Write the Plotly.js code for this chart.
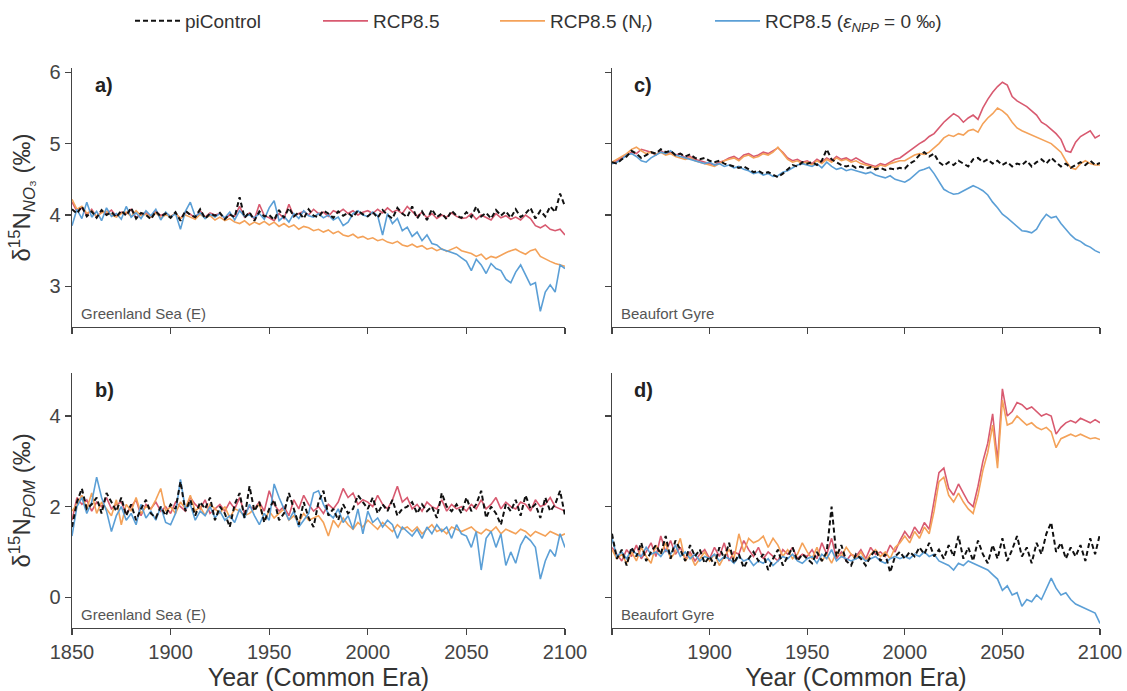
<!DOCTYPE html>
<html>
<head>
<meta charset="utf-8">
<script src="https://cdn.plot.ly/plotly-3.0.1.min.js"></script>
<style>html,body{margin:0;padding:0;background:#fff;}#chart{width:1127px;height:691px;}</style>
</head>
<body>
<div id="chart"></div>
<script>
// Years (2.5-year steps, 1850-2100)
const years = [1850,1852.5,1855,1857.5,1860,1862.5,1865,1867.5,1870,1872.5,
1875,1877.5,1880,1882.5,1885,1887.5,1890,1892.5,1895,1897.5,
1900,1902.5,1905,1907.5,1910,1912.5,1915,1917.5,1920,1922.5,
1925,1927.5,1930,1932.5,1935,1937.5,1940,1942.5,1945,1947.5,
1950,1952.5,1955,1957.5,1960,1962.5,1965,1967.5,1970,1972.5,
1975,1977.5,1980,1982.5,1985,1987.5,1990,1992.5,1995,1997.5,
2000,2002.5,2005,2007.5,2010,2012.5,2015,2017.5,2020,2022.5,
2025,2027.5,2030,2032.5,2035,2037.5,2040,2042.5,2045,2047.5,
2050,2052.5,2055,2057.5,2060,2062.5,2065,2067.5,2070,2072.5,
2075,2077.5,2080,2082.5,2085,2087.5,2090,2092.5,2095,2097.5,
2100];

const seriesNames = ['piControl','RCP8.5','RCP8.5 (N<sub><i>r</i></sub>)','RCP8.5 (<i>ε</i><sub><i>NPP</i></sub> = 0 ‰)'];
const panelLetters = ['a)','b)','c)','d)'];
const regionNames = ['Greenland Sea (E)','Greenland Sea (E)','Beaufort Gyre','Beaufort Gyre'];
const xTickVals = [1850,1900,1950,2000,2050,2100];
const xTickText = ['1850','1900','1950','2000','2050','2100'];
const xTickTextD = ['','1900','1950','2000','2050','2100'];

// Panel a: δ15N NO3, Greenland Sea (E)
const aPi = [4.08,4.02,4.12,3.98,4.05,3.96,4.07,4.00,4.04,3.97,
4.06,3.99,4.10,3.95,4.03,4.00,3.94,4.05,3.98,4.02,
3.96,4.04,3.92,4.06,4.00,3.97,4.08,3.95,4.02,3.99,
4.03,3.94,4.01,3.97,4.25,3.96,4.04,3.92,4.05,3.98,
4.00,3.93,4.07,3.96,4.10,3.98,4.04,3.95,4.08,3.99,
3.97,4.06,4.02,3.96,4.05,3.99,4.03,3.97,4.06,4.01,
3.98,4.04,3.96,4.07,4.00,3.95,4.10,4.02,3.97,4.12,
3.95,4.05,3.93,4.08,3.97,4.02,3.94,4.06,3.99,3.96,
4.04,3.97,4.12,3.98,4.03,3.95,4.07,3.99,4.05,3.96,
4.08,3.97,4.02,4.10,3.95,4.06,3.98,4.12,4.04,4.30,
4.12];
const aRcp = [4.18,4.05,4.10,4.00,4.08,3.97,4.05,4.02,4.07,3.98,
4.04,4.02,4.08,3.96,4.01,4.03,3.97,4.05,3.99,4.03,
3.98,4.02,3.95,4.04,4.01,3.96,4.06,3.97,4.03,4.00,
4.02,3.95,4.00,3.98,4.12,3.97,4.03,3.94,4.15,3.99,
3.96,3.92,4.02,3.95,4.15,3.98,4.02,4.05,4.00,4.08,
4.02,4.04,3.98,4.06,4.03,4.08,4.02,4.06,4.00,4.04,
4.06,4.02,4.08,4.03,4.10,4.04,4.07,4.02,4.12,4.05,
3.98,4.04,3.96,4.02,3.95,4.00,3.97,4.03,3.98,3.95,
3.96,4.02,3.94,4.00,3.96,3.93,4.02,3.96,3.99,3.94,
3.97,3.93,4.00,3.95,3.85,3.82,3.86,3.80,3.78,3.80,
3.72];
const aNr = [4.22,4.08,4.12,4.02,4.06,3.98,4.03,4.05,4.00,3.97,
4.02,4.04,3.98,4.06,3.99,4.01,3.97,4.03,3.96,4.00,
3.98,4.02,3.95,4.00,3.97,3.94,4.01,3.96,3.99,3.93,
3.97,3.92,3.95,3.90,3.88,3.92,3.86,3.90,3.87,3.91,
3.86,3.90,3.84,3.88,3.83,3.86,3.80,3.84,3.82,3.78,
3.80,3.76,3.79,3.74,3.77,3.72,3.70,3.73,3.68,3.70,
3.66,3.68,3.64,3.66,3.62,3.60,3.63,3.58,3.56,3.59,
3.55,3.57,3.52,3.54,3.50,3.53,3.49,3.52,3.55,3.50,
3.48,3.46,3.42,3.45,3.38,3.42,3.40,3.44,3.47,3.50,
3.52,3.48,3.45,3.50,3.52,3.42,3.38,3.35,3.32,3.30,
3.28];
const aEps = [3.85,4.08,3.95,4.18,3.97,4.05,3.92,4.10,3.98,4.02,
3.94,4.12,3.97,4.03,3.95,4.06,3.99,4.08,3.93,4.04,
3.97,4.02,3.80,4.05,4.18,3.98,4.03,3.95,4.01,3.97,
4.02,3.96,4.04,3.93,4.06,3.98,4.00,3.96,4.02,3.94,
4.10,4.20,3.92,3.98,3.90,4.02,3.95,4.06,3.99,3.97,
4.02,3.96,4.00,3.93,3.97,3.85,3.90,4.02,4.06,4.00,
3.98,4.04,3.99,3.72,4.02,3.88,3.95,3.78,3.83,3.70,
3.76,3.64,3.72,3.60,3.58,3.52,3.50,3.47,3.45,3.40,
3.35,3.22,3.38,3.30,3.18,3.32,3.25,3.22,3.10,3.05,
3.20,3.30,3.15,3.02,3.05,2.65,2.92,3.02,2.92,3.30,
3.25];

// Panel b: δ15N POM, Greenland Sea (E)
const bPi = [1.55,2.10,2.40,1.95,2.05,2.20,1.85,2.30,2.10,1.90,
2.20,1.80,2.05,1.70,1.95,2.15,1.85,1.75,2.00,1.80,
2.05,1.95,2.55,1.90,2.15,1.80,2.10,1.95,2.20,1.70,
2.00,1.85,1.55,2.05,2.30,1.75,2.45,1.90,2.10,1.65,
1.95,2.15,1.70,1.85,2.30,1.95,1.60,2.10,1.75,1.55,
2.10,2.35,1.80,1.95,1.70,2.05,1.85,1.95,2.25,2.10,
1.95,2.20,1.85,2.05,1.90,2.15,1.80,1.95,2.00,2.10,
1.85,2.05,1.90,2.00,1.75,2.30,2.00,1.90,2.05,1.85,
2.20,1.90,2.05,2.35,1.75,2.00,1.85,1.60,2.05,1.90,
2.15,1.80,2.25,1.95,2.05,1.75,2.20,1.90,2.05,2.35,
1.80];
const bRcp = [1.70,2.20,2.05,2.15,1.90,2.10,2.00,2.20,1.95,2.05,
2.10,1.85,2.00,2.15,1.80,2.05,1.95,2.10,1.90,2.00,
1.85,2.10,2.00,1.90,2.20,2.05,1.95,2.15,1.85,1.95,
2.05,1.90,2.10,1.95,2.20,1.85,2.00,1.95,2.10,1.90,
2.35,2.05,1.90,2.00,1.80,2.15,1.95,2.25,2.05,1.90,
2.00,1.85,2.05,1.95,2.10,2.40,2.20,2.30,2.05,2.15,
2.10,2.00,2.25,2.05,1.95,2.15,2.45,2.10,2.20,1.95,
2.05,1.90,2.10,2.00,1.95,2.15,1.90,2.05,1.95,2.00,
1.90,2.05,1.95,2.15,1.95,2.05,2.20,1.95,2.10,2.00,
1.95,2.10,2.05,1.90,2.15,2.00,2.05,2.20,2.00,1.95,
1.90];
const bNr = [1.90,2.05,2.25,1.95,2.30,1.85,2.10,1.95,1.80,2.15,
1.60,2.05,1.90,2.20,1.85,2.00,1.95,2.15,2.40,1.90,
2.00,1.85,2.10,1.95,2.25,1.90,2.00,1.80,2.05,1.95,
1.85,2.00,1.75,1.95,1.90,1.80,1.85,1.95,2.05,1.70,
1.90,1.75,1.85,1.95,1.70,1.80,1.65,1.85,1.70,1.75,
1.80,1.65,1.35,1.70,1.55,1.75,1.60,1.50,1.65,1.55,
1.70,1.60,1.50,1.65,1.55,1.45,1.60,1.50,1.55,1.45,
1.55,1.40,1.50,1.60,1.45,1.50,1.40,1.55,1.50,1.45,
1.50,1.55,1.45,1.40,1.50,1.45,1.55,1.40,1.50,1.45,
1.40,1.50,1.45,1.35,1.45,1.40,1.35,1.45,1.40,1.35,
1.40];
const bEps = [1.35,2.00,2.20,1.85,2.10,2.65,2.20,1.90,1.45,1.80,
2.00,1.70,1.85,1.60,2.05,1.75,1.90,1.70,2.00,1.65,
1.60,1.85,2.60,1.95,2.05,1.70,1.90,1.80,2.00,1.75,
1.90,1.70,1.80,1.65,1.95,1.75,2.05,1.80,1.60,1.85,
1.70,2.50,2.20,1.95,1.70,1.90,1.55,1.70,1.85,2.30,
2.35,2.05,1.85,1.75,1.95,1.65,1.80,1.50,1.95,1.40,
1.90,1.65,1.75,1.55,1.70,1.60,1.30,1.55,1.45,1.35,
1.50,1.30,1.55,1.40,1.60,1.45,1.55,1.30,1.60,1.40,
1.35,1.10,1.45,0.60,1.30,1.45,1.10,1.40,0.70,1.00,
0.75,1.15,1.35,1.25,1.10,0.40,0.80,1.05,0.90,1.40,
1.10];

// Panel c: δ15N NO3, Beaufort Gyre
const cPi = [4.74,4.72,4.78,4.82,4.90,4.86,4.80,4.84,4.88,4.86,
4.92,4.88,4.90,4.84,4.86,4.82,4.85,4.80,4.78,4.80,
4.76,4.74,4.76,4.72,4.70,4.68,4.66,4.68,4.64,4.60,
4.62,4.58,4.60,4.56,4.53,4.58,4.64,4.70,4.68,4.74,
4.72,4.74,4.70,4.76,4.92,4.78,4.74,4.70,4.68,4.70,
4.66,4.68,4.65,4.67,4.64,4.66,4.63,4.65,4.64,4.66,
4.65,4.72,4.76,4.84,4.88,4.82,4.86,4.74,4.69,4.74,
4.70,4.76,4.72,4.68,4.78,4.80,4.74,4.78,4.72,4.76,
4.70,4.74,4.68,4.72,4.70,4.76,4.68,4.74,4.78,4.72,
4.80,4.74,4.68,4.72,4.66,4.70,4.74,4.70,4.76,4.70,
4.73];
const cRcp = [4.72,4.76,4.80,4.84,4.88,4.86,4.92,4.90,4.88,4.84,
4.90,4.86,4.88,4.84,4.86,4.80,4.82,4.78,4.76,4.74,
4.72,4.70,4.74,4.76,4.80,4.82,4.78,4.84,4.86,4.82,
4.84,4.88,4.86,4.90,4.94,4.88,4.80,4.76,4.78,4.74,
4.76,4.72,4.78,4.74,4.80,4.76,4.82,4.78,4.80,4.76,
4.80,4.76,4.72,4.70,4.68,4.72,4.70,4.74,4.78,4.80,
4.85,4.90,4.96,5.00,5.04,5.10,5.14,5.22,5.30,5.36,
5.42,5.38,5.30,5.36,5.40,5.34,5.50,5.62,5.72,5.80,
5.86,5.82,5.66,5.60,5.56,5.52,5.46,5.40,5.30,5.26,
5.20,5.14,5.06,4.90,4.88,5.02,5.10,5.14,5.18,5.08,
5.12];
const cNr = [4.74,4.78,4.82,4.86,4.92,4.95,4.90,4.86,4.88,4.85,
4.88,4.84,4.86,4.82,4.80,4.78,4.80,4.76,4.74,4.72,
4.70,4.68,4.72,4.76,4.78,4.80,4.76,4.82,4.84,4.80,
4.82,4.86,4.84,4.88,4.95,4.86,4.78,4.74,4.76,4.72,
4.74,4.70,4.76,4.72,4.78,4.74,4.80,4.76,4.78,4.74,
4.76,4.72,4.70,4.68,4.66,4.70,4.68,4.72,4.74,4.76,
4.76,4.80,4.84,4.86,4.85,4.88,4.94,5.00,5.08,5.12,
5.10,5.14,5.12,5.18,5.20,5.16,5.28,5.36,5.42,5.50,
5.46,5.40,5.30,5.22,5.18,5.15,5.12,5.08,5.05,5.02,
5.00,4.94,4.88,4.76,4.66,4.64,4.72,4.76,4.72,4.70,
4.70];
const cEps = [4.72,4.74,4.78,4.84,4.86,4.82,4.76,4.74,4.80,4.84,
4.88,4.86,4.90,4.84,4.82,4.80,4.78,4.76,4.74,4.72,
4.74,4.70,4.72,4.68,4.70,4.66,4.68,4.64,4.62,4.58,
4.60,4.56,4.58,4.54,4.55,4.60,4.62,4.66,4.70,4.72,
4.70,4.68,4.72,4.66,4.74,4.68,4.64,4.66,4.62,4.64,
4.62,4.60,4.58,4.60,4.56,4.54,4.52,4.55,4.50,4.48,
4.46,4.50,4.56,4.62,4.64,4.67,4.58,4.46,4.36,4.32,
4.29,4.30,4.34,4.38,4.41,4.38,4.34,4.28,4.18,4.10,
4.01,3.96,3.90,3.84,3.78,3.77,3.75,3.80,3.92,4.01,
3.96,3.98,3.88,3.80,3.72,3.66,3.63,3.58,3.55,3.50,
3.47];

// Panel d: δ15N POM, Beaufort Gyre
const dPi = [1.40,0.85,1.05,0.70,1.10,0.90,1.20,0.80,1.00,1.15,
0.95,1.35,0.85,1.25,1.05,0.80,1.15,0.90,1.05,0.75,
0.90,0.70,1.10,0.85,1.20,0.75,0.95,0.65,0.85,1.00,
0.80,0.95,0.60,0.85,1.05,0.70,0.90,1.10,0.80,0.95,
0.85,0.75,1.00,0.80,1.00,2.00,0.90,1.15,0.80,0.70,
0.95,0.85,0.70,0.90,1.05,0.80,0.95,0.55,0.90,1.00,
0.85,1.00,0.90,1.10,0.95,1.20,0.90,1.05,0.85,1.15,
0.90,1.35,0.85,1.10,0.80,1.25,0.95,0.75,1.15,0.85,
1.30,0.80,1.05,1.35,0.90,1.10,0.75,1.20,0.95,1.40,
1.65,1.00,1.20,0.85,1.10,0.90,1.15,0.80,1.30,0.95,
1.40];
const dRcp = [1.10,0.95,0.80,1.05,0.90,1.15,0.85,1.00,1.20,0.90,
1.35,1.00,1.25,0.95,1.10,0.85,1.00,0.80,0.95,1.05,
0.85,1.10,0.90,1.20,0.80,1.00,0.95,1.25,1.05,0.90,
1.10,0.85,1.00,0.90,0.80,1.05,0.95,1.10,0.85,0.95,
0.90,1.05,0.85,1.20,0.95,1.30,0.85,1.00,0.80,0.95,
0.90,1.05,0.85,1.10,0.95,1.00,0.90,1.15,1.00,1.25,
1.45,1.30,1.55,1.40,1.65,1.50,2.10,2.75,2.85,2.40,
2.25,2.50,2.30,2.10,2.00,2.45,3.00,3.40,4.05,3.00,
4.60,4.00,4.10,4.30,4.25,4.15,4.20,4.10,4.00,4.05,
4.00,3.60,3.75,3.85,3.90,3.85,3.95,3.90,3.85,3.92,
3.85];
const dNr = [1.05,0.85,0.95,0.75,1.00,0.80,1.10,0.90,0.75,1.15,
0.95,1.20,0.85,1.00,1.30,0.80,0.95,0.70,0.85,1.00,
0.80,0.95,0.70,0.90,1.05,0.85,1.40,1.00,1.30,1.20,
1.25,1.35,1.10,1.30,1.15,0.90,1.05,0.85,0.95,1.20,
1.00,0.85,1.10,0.80,0.95,0.75,1.00,0.90,1.10,0.95,
0.85,1.00,0.80,0.95,1.05,0.90,1.00,0.85,1.10,1.20,
1.35,1.20,1.45,1.30,1.55,1.40,1.90,2.55,2.65,2.25,
2.10,2.30,2.10,1.95,1.85,2.25,2.80,3.20,3.80,2.85,
4.35,3.80,3.85,4.00,3.90,3.80,3.85,3.75,3.70,3.75,
3.65,3.30,3.50,3.55,3.60,3.55,3.60,3.55,3.50,3.52,
3.48];
const dEps = [1.30,0.90,1.00,0.85,1.05,0.95,0.90,1.10,0.95,1.00,
0.90,1.05,0.95,1.15,0.90,1.00,0.85,0.95,0.80,0.90,
0.85,0.95,0.80,0.90,0.85,0.75,0.90,0.80,0.85,0.70,
0.80,0.75,0.85,0.70,0.80,0.90,0.85,0.95,0.80,0.75,
0.85,0.90,0.75,0.95,0.85,1.05,0.80,0.90,0.85,0.80,
0.85,0.90,0.80,0.85,0.90,0.80,0.75,0.85,0.90,0.85,
0.90,0.85,0.95,0.90,1.00,0.90,0.95,0.80,0.75,0.70,
0.60,0.75,0.70,0.80,0.75,0.70,0.65,0.60,0.50,0.40,
0.15,0.25,0.05,0.10,-0.20,-0.05,-0.10,0.05,-0.05,0.20,
0.42,0.20,0.05,0.10,-0.05,-0.15,-0.20,-0.25,-0.30,-0.35,
-0.58];

const colors = {pi:'#111111', rcp:'#d85a70', nr:'#f4a259', eps:'#5b9fd6'};
const FONT = 'Liberation Sans, Arial, Helvetica, sans-serif';

const panels = [
  {xa:'x', ya:'y', data:[aPi,aRcp,aNr,aEps]},
  {xa:'x2', ya:'y2', data:[bPi,bRcp,bNr,bEps]},
  {xa:'x3', ya:'y3', data:[cPi,cRcp,cNr,cEps]},
  {xa:'x4', ya:'y4', data:[dPi,dRcp,dNr,dEps]}
];

const traces = [];
panels.forEach((p, pi) => {
  const [piC, rcp, nr, eps] = p.data;
  const first = pi === 0;
  traces.push({x:years, y:rcp, xaxis:p.xa, yaxis:p.ya, mode:'lines', name:seriesNames[1], legend:'legend2',
    showlegend:first, line:{color:colors.rcp, width:1.6}, hoverinfo:'skip'});
  traces.push({x:years, y:nr, xaxis:p.xa, yaxis:p.ya, mode:'lines', name:seriesNames[2], legend:'legend3',
    showlegend:first, line:{color:colors.nr, width:1.6}, hoverinfo:'skip'});
  traces.push({x:years, y:eps, xaxis:p.xa, yaxis:p.ya, mode:'lines', name:seriesNames[3], legend:'legend4',
    showlegend:first, line:{color:colors.eps, width:1.6}, hoverinfo:'skip'});
  traces.push({x:years, y:piC, xaxis:p.xa, yaxis:p.ya, mode:'lines', name:seriesNames[0], legend:'legend',
    showlegend:first, line:{color:colors.pi, width:2, dash:'5px,3px'}, hoverinfo:'skip'});
});

const W = 1127, H = 691;
const xL = [72/W, 565/W], xR = [612/W, 1100/W];
const yT = [1-327/H, 1-68/H], yB = [1-628/H, 1-373/H];

const axBase = {
  showgrid:false, zeroline:false, showline:true, linecolor:'#444', linewidth:1.3,
  ticks:'outside', ticklen:6, tickwidth:1.3, tickcolor:'#444',
  tickfont:{family:FONT, size:20, color:'#444'}
};
const xBase = Object.assign({}, axBase, {range:[1850,2100], tickmode:'array', tickvals:xTickVals});
const yTitleFont = {family:FONT, size:24, color:'#333'};
const xTitleFont = {family:FONT, size:25, color:'#333'};

const annotations = [];
const panelAxes = [['x','y'],['x2','y2'],['x3','y3'],['x4','y4']];
panelAxes.forEach((ax, i) => {
  annotations.push({xref:ax[0]+' domain', yref:ax[1]+' domain', x:0.042, y:0.985, xanchor:'left', yanchor:'top',
    text:'<b>'+panelLetters[i]+'</b>', showarrow:false, font:{family:FONT, size:20, color:'#222'}});
  annotations.push({xref:ax[0]+' domain', yref:ax[1]+' domain', x:0.014, y:0.012, xanchor:'left', yanchor:'bottom',
    text:regionNames[i], showarrow:false, font:{family:FONT, size:15, color:'#555'}});
});

const legBase = {orientation:'h', y:1-21/H, xanchor:'left', yanchor:'middle', itemwidth:45,
  font:{family:FONT, size:19, color:'#333'}, bgcolor:'rgba(0,0,0,0)'};

const layout = {
  width:W, height:H,
  margin:{l:0, r:0, t:0, b:0},
  paper_bgcolor:'#fff', plot_bgcolor:'rgba(0,0,0,0)',
  font:{family:FONT, color:'#333'},
  showlegend:true,
  legend: Object.assign({}, legBase, {x:130/W}),
  legend2: Object.assign({}, legBase, {x:318/W}),
  legend3: Object.assign({}, legBase, {x:495/W}),
  legend4: Object.assign({}, legBase, {x:710/W}),
  xaxis: Object.assign({}, xBase, {domain:xL, anchor:'y', ticktext:xTickText, showticklabels:false}),
  yaxis: Object.assign({}, axBase, {domain:yT, anchor:'x', range:[2.43,6.06], tickvals:[3,4,5,6],
    title:{text:'δ<sup>15</sup>N<sub><i>NO</i>₃</sub> (‰)', font:yTitleFont, standoff:12}}),
  xaxis2: Object.assign({}, xBase, {domain:xL, anchor:'y2', ticktext:xTickText,
    title:{text:'Year (Common Era)', font:xTitleFont, standoff:2}}),
  yaxis2: Object.assign({}, axBase, {domain:yB, anchor:'x2', range:[-0.68,4.95], tickvals:[0,2,4],
    title:{text:'δ<sup>15</sup>N<sub><i>POM</i></sub> (‰)', font:yTitleFont, standoff:12}}),
  xaxis3: Object.assign({}, xBase, {domain:xR, anchor:'y3', ticktext:xTickText, showticklabels:false}),
  yaxis3: Object.assign({}, axBase, {domain:yT, anchor:'x3', range:[2.43,6.06], tickvals:[3,4,5,6], showticklabels:false}),
  xaxis4: Object.assign({}, xBase, {domain:xR, anchor:'y4', ticktext:xTickTextD,
    title:{text:'Year (Common Era)', font:xTitleFont, standoff:2}}),
  yaxis4: Object.assign({}, axBase, {domain:yB, anchor:'x4', range:[-0.68,4.95], tickvals:[0,2,4], showticklabels:false}),
  annotations: annotations
};

Plotly.newPlot('chart', traces, layout, {displayModeBar:false, staticPlot:true});
</script>
</body>
</html>
